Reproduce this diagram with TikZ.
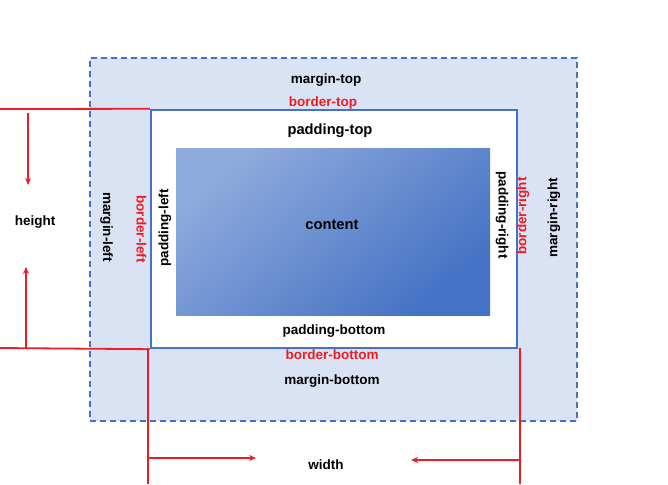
\documentclass[tikz,border=0pt]{standalone}
\usepackage{fontspec}
\setmainfont{Liberation Sans}
\usetikzlibrary{arrows.meta}
\definecolor{mfill}{HTML}{DAE3F3}
\definecolor{bblue}{HTML}{4472C4}
\definecolor{clight}{HTML}{8FAADC}
\definecolor{cdark}{HTML}{4472C4}
\definecolor{lred}{HTML}{EE1C25}
\tikzset{
  lbl/.style={font=\bfseries\fontsize{13.5}{15}\selectfont, text=black, inner sep=0pt},
  biglbl/.style={lbl, font=\bfseries\fontsize{14.7}{16}\selectfont},
  rlbl/.style={lbl, text=lred},
  redline/.style={draw=lred, line width=1.8pt},
  redarrow/.style={redline, -{Stealth[length=7pt,width=6pt]}},
}
\begin{document}
\begin{tikzpicture}[x=1pt,y=-1pt]
\useasboundingbox (0,0) rectangle (668,484);
% margin box
\node[draw=bblue, fill=mfill, dashed, dash pattern=on 6pt off 4pt, line width=1.6pt,
      minimum width=487pt, minimum height=363pt, inner sep=0pt] (margin) at (333.5,239.5) {};
% border box
\node[draw=bblue, fill=white, line width=2.4pt,
      minimum width=366pt, minimum height=238pt, inner sep=0pt] (border) at (334,229) {};
% content
\node[top color=clight, bottom color=cdark, shading angle=40,
      minimum width=314pt, minimum height=167pt, inner sep=0pt] (content) at (333,231.5) {};
% labels
\node[lbl] (mt) at (326,80.5) {margin-top};
\node[rlbl] (bt) at (323,103.5) {border-top};
\node[biglbl] (pt) at (330,130.5) {padding-top};
\node[biglbl] (ct) at (332,224.5) {content};
\node[lbl] (pb) at (334,331.5) {padding-bottom};
\node[rlbl] (bb) at (332,354.5) {border-bottom};
\node[lbl] (mb) at (332,381.5) {margin-bottom};
\node[lbl, rotate=-90] (ml) at (106.5,227) {margin-left};
\node[rlbl, rotate=-90] (bl) at (141.5,229) {border-left};
\node[lbl, rotate=90] (pl) at (165,228) {padding-left};
\node[lbl, rotate=-90] (pr) at (502,215) {padding-right};
\node[rlbl, rotate=90] (br) at (523,216) {border-right};
\node[lbl, rotate=90] (mr) at (554,218) {margin-right};
\node[lbl] (h) at (35,222.5) {height};
\node[lbl] (w) at (326,464.5) {width};
% red guide lines
\coordinate (tl0) at (0,109);
\coordinate (bl0) at (0,348);
\coordinate (vl0) at (148,348);
\coordinate (vl1) at (148,484);
\coordinate (vr0) at (520,348);
\coordinate (vr1) at (520,484);
\draw[redline] (tl0) -- (border.north west);
\draw[redline] (bl0) -- (border.south west);
\draw[redline] (vl0) -- (vl1);
\draw[redline] (vr0) -- (vr1);
% arrows
\coordinate (ha0) at (28,113);
\coordinate (ha1) at (28,185);
\coordinate (hb0) at (26,348);
\coordinate (hb1) at (26,267);
\coordinate (wa0) at (148,458);
\coordinate (wa1) at (256,458);
\coordinate (wb0) at (520,460);
\coordinate (wb1) at (411,460);
\draw[redarrow] (ha0) -- (ha1);
\draw[redarrow] (hb0) -- (hb1);
\draw[redarrow] (wa0) -- (wa1);
\draw[redarrow] (wb0) -- (wb1);
\end{tikzpicture}
\end{document}
